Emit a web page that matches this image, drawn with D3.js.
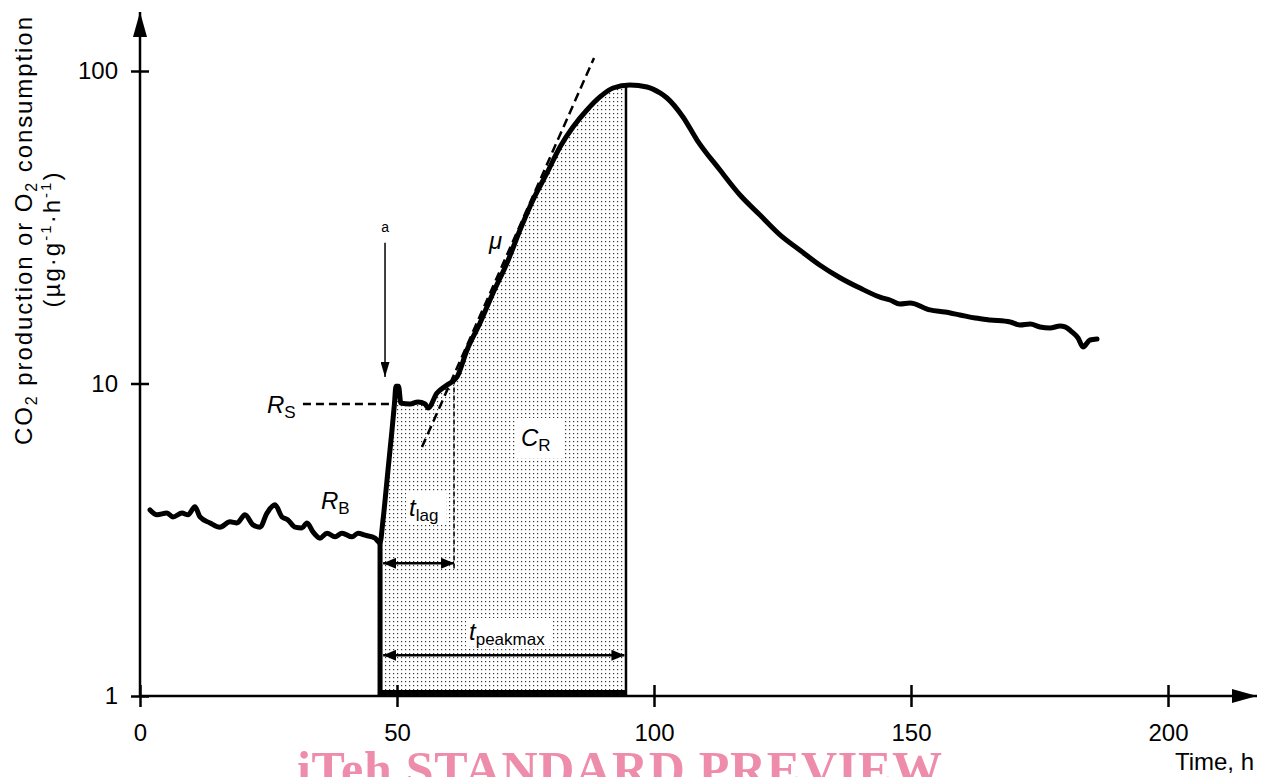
<!DOCTYPE html>
<html>
<head>
<meta charset="UTF-8" />
<title>respiration curve</title>
<style>
    body {
        margin: 0;
        padding: 0;
        background: #fff;
        font-family: 'Liberation Sans', Arial, sans-serif;
    }
    svg { display: block; }
</style>
</head>
<body>
<div class="container"></div>

<script src="https://cdnjs.cloudflare.com/ajax/libs/d3/7.8.5/d3.min.js"></script>
<script>
    // time (h) and rate (µg·g-1·h-1)
    const timeH = [1.95, 3.31, 5.25, 6.42, 8.17, 9.34, 10.70, 11.67, 13.62, 15.56, 17.51, 18.87, 20.43, 21.98, 23.35,
        24.71, 26.26, 27.63, 28.79, 30.16, 31.52, 32.49, 33.66, 35.02, 36.38, 37.94, 39.30, 41.25, 42.41, 43.77, 45.72, 46.69,
        47.28, 48.25, 49.03, 49.5, 49.8, 50.3, 50.75, 52.53, 54.09, 55.45, 56.03, 57.78, 59.73, 61.67, 63.62, 66.15, 68.68,
        71.40, 73.93, 76.46, 79.18, 81.71, 84.24, 86.96, 89.49, 92.02, 95.33, 98.64, 101.17, 102.53, 105.64, 108.37, 112.84,
        116.73, 120.62, 124.51, 128.40, 132.30, 136.19, 140.08, 143.97, 145.9, 147.86, 149.8, 153.70, 156.6, 159.53, 162.5,
        165.37, 169.3, 171.21, 173.2, 175.1, 177.04, 179.0, 179.96, 181.32, 182.5, 183.46, 184.82, 186.19];
    const rate = [3.94, 3.80, 3.85, 3.74, 3.85, 3.80, 4.03, 3.74, 3.58, 3.47, 3.61, 3.58, 3.80, 3.53, 3.47,
        3.85, 4.09, 3.74, 3.66, 3.47, 3.45, 3.58, 3.35, 3.20, 3.32, 3.23, 3.32, 3.23, 3.32, 3.27, 3.20, 3.09,
        3.66, 5.29, 7.10, 8.6, 9.8, 9.8, 8.66, 8.60, 8.73, 8.60, 8.35, 9.32, 9.89, 10.49, 12.80, 15.62, 19.48,
        24.30, 30.99, 38.66, 47.17, 57.15, 66.20, 75.04, 82.59, 88.23, 90.2, 88.9, 85.05, 81.97, 71.26, 60.14, 48.2,
        40.1, 34.6, 29.9, 26.7, 23.9, 21.8, 20.2, 18.9, 18.5, 17.97, 18.1, 17.2, 16.93, 16.57, 16.2,
        15.97, 15.73, 15.39, 15.5, 15.17, 15.05, 15.28, 15.17, 14.62, 13.98, 13.09, 13.78, 13.88];

    const xTicks = [0, 50, 100, 150, 200];
    const yTicks = [1, 10, 100];

    // annotation values
    const tStart = 46.7, tPeak = 94.55, tLagEnd = 61.1;
    const rsLevel = 8.6, rsFrom = 31.7;
    const tangent = [[54.86, 6.26], [88.33, 110.1]];
    const lagArrowRate = 2.66, peakArrowRate = 1.35;
    const addArrow = { t: 47.67, from: 28.2, to: 10.49 };

    const W = 1266, H = 777;
    const x = d3.scaleLinear().domain([0, 200]).range([140, 1168]);
    const y = d3.scaleLog().domain([1, 100]).range([696, 71]);
    const font = "'Liberation Sans', Arial, sans-serif";

    const svg = d3.select('.container').append('svg')
        .attr('width', W).attr('height', H)
        .attr('font-family', font);

    const defs = svg.append('defs');
    const pat = defs.append('pattern').attr('id', 'dots')
        .attr('patternUnits', 'userSpaceOnUse').attr('width', 4).attr('height', 4);
    pat.append('rect').attr('width', 4).attr('height', 4).attr('fill', '#fff');
    pat.append('rect').attr('x', 1).attr('y', 1).attr('width', 1.2).attr('height', 1.2).attr('fill', '#333');

    defs.append('clipPath').attr('id', 'cr').append('rect')
        .attr('x', x(tStart)).attr('y', 0)
        .attr('width', x(tPeak) - x(tStart)).attr('height', y(1));

    const mk = (id, len, wid) => defs.append('marker').attr('id', id)
        .attr('viewBox', `0 0 ${len} ${wid}`).attr('refX', len).attr('refY', wid / 2)
        .attr('markerWidth', len).attr('markerHeight', wid)
        .attr('markerUnits', 'userSpaceOnUse').attr('orient', 'auto-start-reverse')
        .append('path').attr('d', `M0,0L${len},${wid / 2}L0,${wid}Z`).attr('fill', '#000');
    mk('ah', 13, 11);
    mk('ahA', 15, 9);
    mk('ahAxis', 25, 14);

    const pts = timeH.map((t, i) => [t, rate[i]]);
    const rateAt = t => {
        const i = d3.bisector(d => d[0]).left(pts, t);
        const a = pts[i - 1], b = pts[i];
        return a[1] + (b[1] - a[1]) * (t - a[0]) / (b[0] - a[0]);
    };

    // shaded C_R region
    const area = d3.area().x(d => x(d[0])).y0(y(1)).y1(d => y(d[1])).curve(d3.curveMonotoneX);
    svg.append('path').datum(pts).attr('d', area)
        .attr('fill', 'url(#dots)').attr('clip-path', 'url(#cr)');

    // white boxes behind labels
    const boxes = [[517, 418, 46, 40], [406, 493, 40, 32], [466, 618, 86, 28]];
    svg.selectAll('rect.box').data(boxes).join('rect').attr('class', 'box')
        .attr('x', d => d[0]).attr('y', d => d[1]).attr('width', d => d[2]).attr('height', d => d[3])
        .attr('fill', '#fff');

    // region borders
    svg.append('line').attr('x1', x(tStart)).attr('x2', x(tStart))
        .attr('y1', y(1)).attr('y2', y(rateAt(tStart))).attr('stroke', '#000').attr('stroke-width', 5);
    svg.append('line').attr('x1', x(tStart)).attr('x2', x(tPeak))
        .attr('y1', y(1) - 3).attr('y2', y(1) - 3).attr('stroke', '#000').attr('stroke-width', 6);
    svg.append('line').attr('x1', x(tPeak)).attr('x2', x(tPeak))
        .attr('y1', y(1)).attr('y2', y(rateAt(tPeak))).attr('stroke', '#000').attr('stroke-width', 2.5);

    // dashed guides
    svg.append('line').attr('x1', x(rsFrom)).attr('x2', x(49.6))
        .attr('y1', y(rsLevel)).attr('y2', y(rsLevel))
        .attr('stroke', '#000').attr('stroke-width', 2.5).attr('stroke-dasharray', '8,5');
    svg.append('line').attr('x1', x(tangent[0][0])).attr('y1', y(tangent[0][1]))
        .attr('x2', x(tangent[1][0])).attr('y2', y(tangent[1][1]))
        .attr('stroke', '#000').attr('stroke-width', 2.5).attr('stroke-dasharray', '9,5');
    svg.append('line').attr('x1', x(tLagEnd)).attr('x2', x(tLagEnd))
        .attr('y1', y(10.3)).attr('y2', y(2.55))
        .attr('stroke', '#000').attr('stroke-width', 1.5).attr('stroke-dasharray', '5,3');

    // main trace
    const line = d3.line().x(d => x(d[0])).y(d => y(d[1])).curve(d3.curveMonotoneX);
    svg.append('path').datum(pts).attr('d', line)
        .attr('fill', 'none').attr('stroke', '#000').attr('stroke-width', 5)
        .attr('stroke-linejoin', 'round').attr('stroke-linecap', 'round');

    // arrows
    svg.append('line').attr('x1', x(addArrow.t)).attr('x2', x(addArrow.t))
        .attr('y1', y(addArrow.from)).attr('y2', y(addArrow.to))
        .attr('stroke', '#000').attr('stroke-width', 1.5).attr('marker-end', 'url(#ahA)');
    [[lagArrowRate, tLagEnd], [peakArrowRate, tPeak - 0.3]].forEach(([r, t1]) => {
        svg.append('line').attr('x1', x(47.3)).attr('x2', x(t1))
            .attr('y1', y(r)).attr('y2', y(r))
            .attr('stroke', '#000').attr('stroke-width', 2.5)
            .attr('marker-start', 'url(#ah)').attr('marker-end', 'url(#ah)');
    });

    // axes
    const gx = svg.append('g').attr('transform', `translate(0,${y(1)})`)
        .call(d3.axisBottom(x).tickValues(xTicks).tickSize(11).tickPadding(17))
        .attr('font-size', 24).attr('font-family', font);
    gx.select('.domain').remove();
    gx.selectAll('.tick line').attr('y1', -11).attr('stroke-width', 2.5);

    const gy = svg.append('g').attr('transform', `translate(${x(0)},0)`)
        .call(d3.axisLeft(y).tickValues(yTicks).tickFormat(d3.format('d')).tickSize(9).tickPadding(13))
        .attr('font-size', 24).attr('font-family', font);
    gy.select('.domain').remove();
    gy.selectAll('.tick line').attr('x1', 9).attr('stroke-width', 2.5);

    svg.append('line').attr('x1', x(0)).attr('x2', 1257).attr('y1', y(1)).attr('y2', y(1))
        .attr('stroke', '#000').attr('stroke-width', 2.5).attr('marker-end', 'url(#ahAxis)');
    svg.append('line').attr('x1', x(0)).attr('x2', x(0)).attr('y1', y(1)).attr('y2', 12)
        .attr('stroke', '#000').attr('stroke-width', 2.5).attr('marker-end', 'url(#ahAxis)');

    // axis titles
    const yl1 = svg.append('text').attr('transform', 'translate(32,231) rotate(-90)')
        .attr('text-anchor', 'middle').attr('font-size', 24)
        .attr('textLength', 428).attr('lengthAdjust', 'spacing');
    yl1.append('tspan').text('CO');
    yl1.append('tspan').attr('dy', 5).attr('font-size', 16).text('2');
    yl1.append('tspan').attr('dy', -5).text(' production or O');
    yl1.append('tspan').attr('dy', 5).attr('font-size', 16).text('2');
    yl1.append('tspan').attr('dy', -5).text(' consumption');

    const yl2 = svg.append('text').attr('transform', 'translate(60,240) rotate(-90)')
        .attr('text-anchor', 'middle').attr('font-size', 24)
        .attr('textLength', 135).attr('lengthAdjust', 'spacing');
    yl2.append('tspan').text('(µg·g');
    yl2.append('tspan').attr('dy', -9).attr('font-size', 15).text('-1');
    yl2.append('tspan').attr('dy', 9).text('·h');
    yl2.append('tspan').attr('dy', -9).attr('font-size', 15).text('-1');
    yl2.append('tspan').attr('dy', 9).text(')');

    svg.append('text').attr('x', 1254).attr('y', 770).attr('text-anchor', 'end')
        .attr('font-size', 24).text('Time, h');

    // symbol labels
    const sym = (xp, yp, main, sub, anchor) => {
        const t = svg.append('text').attr('x', xp).attr('y', yp).attr('font-size', 24)
            .attr('text-anchor', anchor || 'start');
        t.append('tspan').attr('font-style', 'italic').text(main);
        if (sub) t.append('tspan').attr('font-size', 17).attr('dy', 5).text(sub);
        return t;
    };
    sym(267, 413, 'R', 'S');
    sym(321, 509, 'R', 'B');
    sym(409, 516, 't', 'lag');
    sym(521, 446, 'C', 'R');
    sym(469, 640, 't', 'peakmax');
    sym(489, 249, 'μ');
    svg.append('text').attr('x', x(addArrow.t)).attr('y', 232).attr('text-anchor', 'middle')
        .attr('font-size', 14).text('a');

    // watermark
    svg.append('text').attr('x', 297).attr('y', 786)
        .attr('font-family', "'Liberation Serif', 'Times New Roman', serif")
        .attr('font-weight', 'bold').attr('font-size', 50).attr('fill', '#ee8cab')
        .attr('textLength', 645).attr('lengthAdjust', 'spacing')
        .text('iTeh STANDARD PREVIEW');
</script>
</body>
</html>
